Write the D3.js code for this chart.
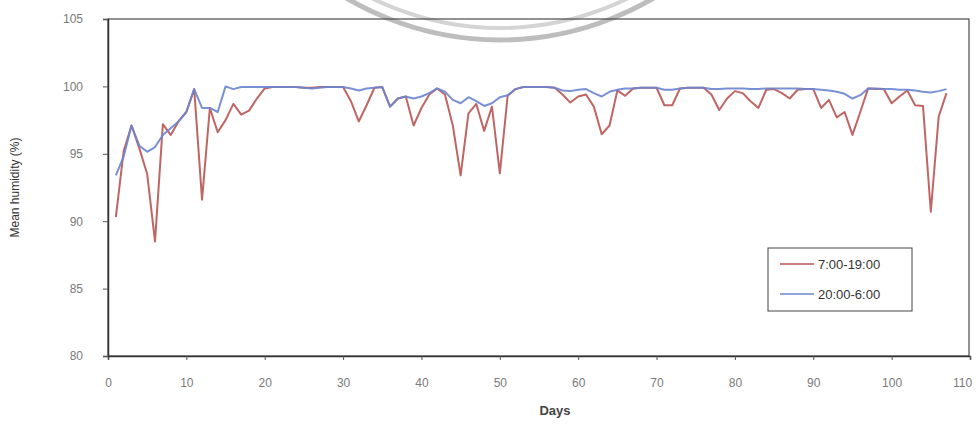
<!DOCTYPE html>
<html>
<head>
<script src="https://cdnjs.cloudflare.com/ajax/libs/d3/7.8.5/d3.min.js"></script>
<style>
  body { margin: 0; background: #fff; }
  svg { font-family: "Liberation Sans", Arial, sans-serif; }
</style>
</head>
<body>
<div id="vis"></div>
<script>
// days 1..107
const days = d3.range(1, 108);

// 7:00-19:00 (daytime) mean humidity
const dayValues = [
  90.3, 95.2, 97.1, 95.4, 93.5, 88.5, 97.2, 96.4, 97.4, 98.1,
  99.8, 91.6, 98.4, 96.6, 97.5, 98.7, 97.9, 98.2, 99.1, 99.85,
  99.95, 99.95, 99.95, 99.95, 99.9, 99.9, 99.95, 99.95, 99.95, 99.95,
  98.9, 97.4, 98.6, 99.9, 99.95, 98.5, 99.1, 99.25, 97.1, 98.4,
  99.4, 99.85, 99.4, 97.1, 93.4, 98.0, 98.7, 96.7, 98.5, 93.55,
  99.3, 99.8, 99.95, 99.95, 99.95, 99.95, 99.9, 99.4, 98.8, 99.25,
  99.4, 98.5, 96.45, 97.1, 99.7, 99.3, 99.85, 99.9, 99.9, 99.9,
  98.6, 98.6, 99.85, 99.9, 99.9, 99.9, 99.4, 98.25, 99.1, 99.65,
  99.5, 98.9, 98.4, 99.75, 99.8, 99.5, 99.1, 99.75, 99.8, 99.8,
  98.4, 99.0, 97.7, 98.1, 96.4, 98.1, 99.85, 99.8, 99.8, 98.75,
  99.25, 99.7, 98.6, 98.55, 90.7, 97.75, 99.5
];

// 20:00-6:00 (night) mean humidity
const nightValues = [
  93.4, 94.8, 97.1, 95.6, 95.15, 95.5, 96.4, 96.9, 97.4, 98.1,
  99.8, 98.4, 98.4, 98.1, 100.0, 99.8, 99.95, 99.95, 99.95, 99.95,
  99.95, 99.95, 99.95, 99.95, 99.9, 99.85, 99.9, 99.95, 99.95, 99.95,
  99.85, 99.7, 99.85, 99.9, 99.95, 98.5, 99.1, 99.25, 99.1, 99.25,
  99.5, 99.85, 99.6, 99.0, 98.75, 99.2, 98.9, 98.55, 98.75, 99.2,
  99.35, 99.8, 99.95, 99.95, 99.95, 99.95, 99.9, 99.7, 99.65, 99.75,
  99.8, 99.5, 99.25, 99.6, 99.75, 99.85, 99.85, 99.9, 99.9, 99.9,
  99.75, 99.75, 99.85, 99.9, 99.9, 99.9, 99.8, 99.8, 99.85, 99.85,
  99.85, 99.8, 99.8, 99.85, 99.85, 99.85, 99.85, 99.85, 99.8, 99.8,
  99.75, 99.7, 99.6, 99.45, 99.1, 99.35, 99.85, 99.85, 99.8, 99.8,
  99.75, 99.75, 99.7, 99.6, 99.55, 99.65, 99.8
];

const seriesNames = ["7:00-19:00", "20:00-6:00"];
const seriesColors = ["#b85553", "#6b84cf"];
const xTicks = d3.range(0, 111, 10);
const yTicks = [80, 85, 90, 95, 100, 105];

const width = 976, height = 427;
const margin = {left: 108, right: 7, top: 19, bottom: 71};

const svg = d3.select("#vis").append("svg")
  .attr("width", width)
  .attr("height", height);

// faint watermark ring at the top
const ring = svg.append("g").attr("fill", "none");
ring.append("circle").attr("cx", 500).attr("cy", -262).attr("r", 302)
  .attr("stroke", "#bdbdbd").attr("stroke-width", 5);
ring.append("circle").attr("cx", 500).attr("cy", -262).attr("r", 290)
  .attr("stroke", "#d4d4d4").attr("stroke-width", 4);

const x = d3.scaleLinear().domain([0, 110]).range([margin.left, width - margin.right + 1]);
const y = d3.scaleLinear().domain([80, 105]).range([height - margin.bottom, margin.top]);

// frame
svg.append("rect")
  .attr("x", x(0)).attr("y", y(105))
  .attr("width", width - margin.right - x(0)).attr("height", y(80) - y(105))
  .attr("fill", "none").attr("stroke", "#4a4a4a").attr("stroke-width", 1.2);

// axes
const xAxis = svg.append("g")
  .attr("transform", `translate(0,${y(80)})`)
  .call(d3.axisBottom(x).tickValues(xTicks).tickSize(4).tickPadding(18));
const yAxis = svg.append("g")
  .attr("transform", `translate(${x(0)},0)`)
  .call(d3.axisLeft(y).tickValues(yTicks).tickSize(5).tickPadding(20));

[xAxis, yAxis].forEach(g => {
  g.select(".domain").attr("stroke", "#333").attr("stroke-width", 1.5);
  g.selectAll(".tick line").attr("stroke", "#555");
  g.selectAll(".tick text").attr("fill", "#7a7a7a")
    .style("font-size", "12px")
    .style("font-family", "'Liberation Sans', Arial, sans-serif");
});
// last label sits at the window edge; pull it in so it stays whole
xAxis.selectAll(".tick text").filter(d => d === 110).attr("dx", -8);

// lines
const line = d3.line()
  .x((d, i) => x(days[i]))
  .y(d => y(d));

const plot = svg.append("g");
[dayValues, nightValues].forEach((vals, k) => {
  plot.append("path")
    .datum(vals)
    .attr("fill", "none")
    .attr("stroke", seriesColors[k])
    .attr("stroke-width", 2)
    .attr("stroke-linejoin", "round")
    .attr("opacity", 0.9)
    .attr("d", line);
});

// axis titles
svg.append("text")
  .attr("transform", `translate(19,${(y(80) + y(105)) / 2}) rotate(-90)`)
  .attr("text-anchor", "middle")
  .attr("fill", "#333")
  .style("font-size", "12px")
  .text("Mean humidity (%)");

svg.append("text")
  .attr("x", (x(0) + x(110)) / 2 + 16)
  .attr("y", 415)
  .attr("text-anchor", "middle")
  .attr("fill", "#444")
  .style("font-size", "13px")
  .style("font-weight", "bold")
  .text("Days");

// legend
const legend = svg.append("g").attr("transform", "translate(768,248)");
legend.append("rect")
  .attr("width", 144).attr("height", 63)
  .attr("fill", "#fff").attr("stroke", "#444").attr("stroke-width", 1);
seriesNames.forEach((name, i) => {
  const ly = 16 + i * 30;
  legend.append("line")
    .attr("x1", 12).attr("x2", 46).attr("y1", ly).attr("y2", ly)
    .attr("stroke", seriesColors[i]).attr("stroke-width", 1.5);
  legend.append("text")
    .attr("x", 50).attr("y", ly + 5)
    .attr("fill", "#333")
    .style("font-size", "13px")
    .text(name);
});
</script>
</body>
</html>
